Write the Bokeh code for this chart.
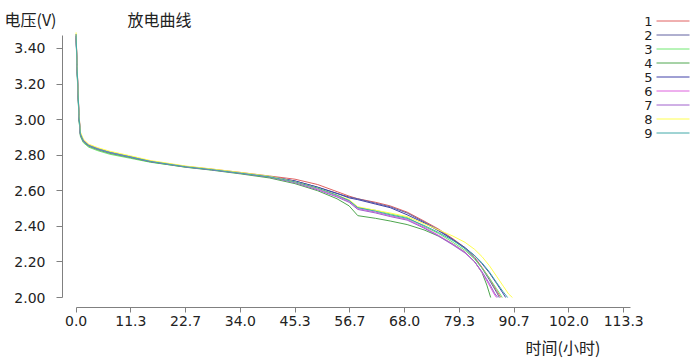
from bokeh.plotting import figure
from bokeh.models import Range1d, FixedTicker, Label, Arrow
from bokeh.embed import file_html
from bokeh.resources import INLINE

# ---------------- data ----------------
series_names = ["1", "2", "3", "4", "5", "6", "7", "8", "9"]
series_colors = ["#e06060", "#6060a0", "#70e870", "#4ea64e", "#4040a8",
                 "#dd60dd", "#a060cc", "#ffff50", "#40a8a8"]

hours_early = [0, 0.2, 0.6, 0.9, 1.5, 2.6, 4.5, 7, 11.3, 15.4, 22.7, 28, 34, 40]

hours_1 = hours_early + [45.3, 50, 54, 56.5, 58.3, 62, 65, 68.5, 72, 75, 78, 80.5, 82.5, 84, 85.5, 87, 87.9]
volts_1 = [3.48, 3.30, 3.02, 2.92, 2.885, 2.858, 2.838, 2.817, 2.792, 2.767, 2.737, 2.722, 2.703, 2.683,
           2.665, 2.635, 2.595, 2.57, 2.555, 2.535, 2.515, 2.48, 2.43, 2.385, 2.33, 2.28, 2.225, 2.17, 2.11, 2.04, 2.0]

hours_2 = hours_early + [45.3, 50, 54, 56.5, 58.3, 62, 65, 68.5, 72, 75, 78, 80.5, 82.5, 84, 85.5, 87, 87.6]
volts_2 = [3.47, 3.29, 3.01, 2.915, 2.88, 2.855, 2.835, 2.815, 2.79, 2.765, 2.735, 2.72, 2.70, 2.68,
           2.655, 2.62, 2.585, 2.565, 2.555, 2.53, 2.51, 2.475, 2.425, 2.38, 2.325, 2.275, 2.22, 2.165, 2.10, 2.03, 2.0]

hours_3 = hours_early + [45.3, 50, 54, 56.5, 58.3, 62, 65, 68.5, 72, 75, 78, 80.5, 82.5, 84, 85.5, 87, 88.2]
volts_3 = [3.48, 3.28, 3.00, 2.905, 2.87, 2.845, 2.825, 2.805, 2.782, 2.76, 2.733, 2.718, 2.698, 2.676,
           2.65, 2.615, 2.575, 2.545, 2.505, 2.49, 2.47, 2.45, 2.40, 2.36, 2.31, 2.265, 2.215, 2.165, 2.11, 2.05, 2.0]

hours_4 = hours_early + [45.3, 50, 54, 56.5, 58.3, 62, 65, 68.5, 72, 75, 78, 80.5, 82.5, 84, 85, 85.8]
volts_4 = [3.46, 3.27, 3.00, 2.91, 2.875, 2.85, 2.83, 2.81, 2.786, 2.762, 2.732, 2.716, 2.695, 2.672,
           2.64, 2.60, 2.555, 2.515, 2.46, 2.445, 2.43, 2.41, 2.38, 2.345, 2.30, 2.255, 2.20, 2.14, 2.07, 2.0]

hours_5 = hours_early + [45.3, 50, 54, 56.5, 58.3, 62, 65, 68.5, 72, 75, 78, 80.5, 82.5, 84, 85.5, 87, 88.2, 88.9]
volts_5 = [3.47, 3.30, 3.02, 2.92, 2.882, 2.856, 2.836, 2.816, 2.79, 2.765, 2.736, 2.72, 2.70, 2.68,
           2.655, 2.62, 2.585, 2.56, 2.55, 2.525, 2.505, 2.465, 2.42, 2.375, 2.325, 2.28, 2.235, 2.19, 2.14, 2.08, 2.03, 2.0]

hours_6 = hours_early + [45.3, 50, 54, 56.5, 58.3, 62, 65, 68.5, 72, 75, 78, 80.5, 82.5, 84, 85.5, 86.5, 87]
volts_6 = [3.48, 3.31, 3.03, 2.925, 2.885, 2.858, 2.837, 2.816, 2.791, 2.766, 2.736, 2.72, 2.70, 2.679,
           2.65, 2.61, 2.57, 2.54, 2.50, 2.48, 2.46, 2.44, 2.395, 2.35, 2.30, 2.255, 2.20, 2.14, 2.07, 2.02, 2.0]

hours_7 = hours_early + [45.3, 50, 54, 56.5, 58.3, 62, 65, 68.5, 72, 75, 78, 80.5, 82.5, 84, 85.5, 86.7, 87.3]
volts_7 = [3.47, 3.29, 3.01, 2.915, 2.878, 2.853, 2.833, 2.813, 2.788, 2.764, 2.734, 2.718, 2.698, 2.677,
           2.645, 2.605, 2.565, 2.535, 2.495, 2.475, 2.455, 2.435, 2.39, 2.345, 2.295, 2.25, 2.20, 2.145, 2.08, 2.02, 2.0]

hours_8 = hours_early + [45.3, 50, 54, 56.5, 58.3, 62, 65, 68.5, 72, 75, 78, 80.5, 82.5, 84, 85.5, 87, 88.5, 89.5, 90.3]
volts_8 = [3.49, 3.31, 3.03, 2.93, 2.89, 2.862, 2.842, 2.822, 2.796, 2.77, 2.739, 2.723, 2.703, 2.682,
           2.65, 2.615, 2.575, 2.55, 2.51, 2.49, 2.475, 2.455, 2.415, 2.38, 2.345, 2.31, 2.27, 2.23, 2.18, 2.12, 2.06, 2.02, 2.0]

hours_9 = hours_early + [45.3, 50, 54, 56.5, 58.3, 62, 65, 68.5, 72, 75, 78, 80.5, 82.5, 84, 85.5, 87, 88.3, 89.3]
volts_9 = [3.48, 3.30, 3.02, 2.92, 2.88, 2.855, 2.835, 2.815, 2.79, 2.765, 2.735, 2.719, 2.699, 2.679,
           2.65, 2.615, 2.575, 2.545, 2.505, 2.485, 2.465, 2.445, 2.405, 2.365, 2.32, 2.275, 2.235, 2.195, 2.145, 2.085, 2.035, 2.0]

all_hours = [hours_1, hours_2, hours_3, hours_4, hours_5, hours_6, hours_7, hours_8, hours_9]
all_volts = [volts_1, volts_2, volts_3, volts_4, volts_5, volts_6, volts_7, volts_8, volts_9]

x_tick_values = [0, 11.333, 22.667, 34.0, 45.333, 56.667, 68.0, 79.333, 90.667, 102.0, 113.333]
x_tick_labels = ["0.0", "11.3", "22.7", "34.0", "45.3", "56.7", "68.0", "79.3", "90.7", "102.0", "113.3"]
y_tick_values = [2.0, 2.2, 2.4, 2.6, 2.8, 3.0, 3.2, 3.4]
y_tick_labels = ["2.00", "2.20", "2.40", "2.60", "2.80", "3.00", "3.20", "3.40"]

title_text = "放电曲线"
y_title = "电压(V)"
x_title = "时间(小时)"

# ---------------- figure ----------------
W, H = 697, 360
p = figure(width=W, height=H, output_backend="svg", toolbar_location=None,
           x_range=Range1d(-15.646, 128.6), y_range=Range1d(1.64587, 3.66948),
           min_border=0, title_location=None)
p.outline_line_color = None
p.xgrid.visible = False
p.ygrid.visible = False
p.background_fill_color = "white"
p.border_fill_color = "white"

for hrs, vs, c in zip(all_hours, all_volts, series_colors):
    p.line(hrs, vs, line_color=c, line_width=1)

tick_font = "DejaVu Sans"
ax_col = "#808080"

xa = p.xaxis[0]
xa.fixed_location = 1.9438
xa.ticker = FixedTicker(ticks=x_tick_values)
xa.major_label_overrides = {v: l for v, l in zip(x_tick_values, x_tick_labels)}
xa.bounds = (0, 114.8)
xa.axis_line_color = ax_col
xa.major_tick_line_color = ax_col
xa.minor_tick_line_color = None
xa.major_tick_out = 5
xa.major_tick_in = 0
xa.major_label_standoff = 4
xa.major_label_text_font = tick_font
xa.major_label_text_font_size = "14px"
xa.major_label_text_color = "#222222"

ya = p.yaxis[0]
ya.fixed_location = -2.815
ya.ticker = FixedTicker(ticks=y_tick_values)
ya.major_label_overrides = {v: l for v, l in zip(y_tick_values, y_tick_labels)}
ya.bounds = (2.0, 3.47)
ya.axis_line_color = ax_col
ya.major_tick_line_color = ax_col
ya.minor_tick_line_color = None
ya.major_tick_out = 6
ya.major_tick_in = 0
ya.major_label_standoff = 11
ya.major_label_orientation = "horizontal"
ya.major_label_text_font = tick_font
ya.major_label_text_font_size = "14px"
ya.major_label_text_color = "#222222"

cjk = "Noto Sans CJK SC"
# frame covers whole canvas; screen units: x from left, y from bottom
p.add_layout(Label(x=127, y=354, x_units="screen", y_units="screen", text=title_text,
                   text_font=cjk, text_font_size="16px", text_color="#222222",
                   text_align="left", text_baseline="top"))
p.add_layout(Label(x=4, y=354, x_units="screen", y_units="screen", text=y_title,
                   text_font=cjk, text_font_size="16px", text_color="#222222",
                   text_align="left", text_baseline="top"))
p.add_layout(Label(x=525, y=14, x_units="screen", y_units="screen", text=x_title,
                   text_font=cjk, text_font_size="16px", text_color="#222222",
                   text_align="left", text_baseline="middle"))

# legend: number on the left, short line on the right
for i, (n, c) in enumerate(zip(series_names, series_colors)):
    yy = 339.5 - 14 * i
    p.add_layout(Label(x=652, y=yy, x_units="screen", y_units="screen", text=n,
                       text_font=tick_font, text_font_size="13px", text_color="#222222",
                       text_align="right", text_baseline="middle"))
    p.add_layout(Arrow(x_start=656, y_start=yy, x_end=689, y_end=yy,
                       start_units="screen", end_units="screen",
                       start=None, end=None, line_color=c, line_width=1))

open("out.html", "w").write(file_html(p, INLINE))
